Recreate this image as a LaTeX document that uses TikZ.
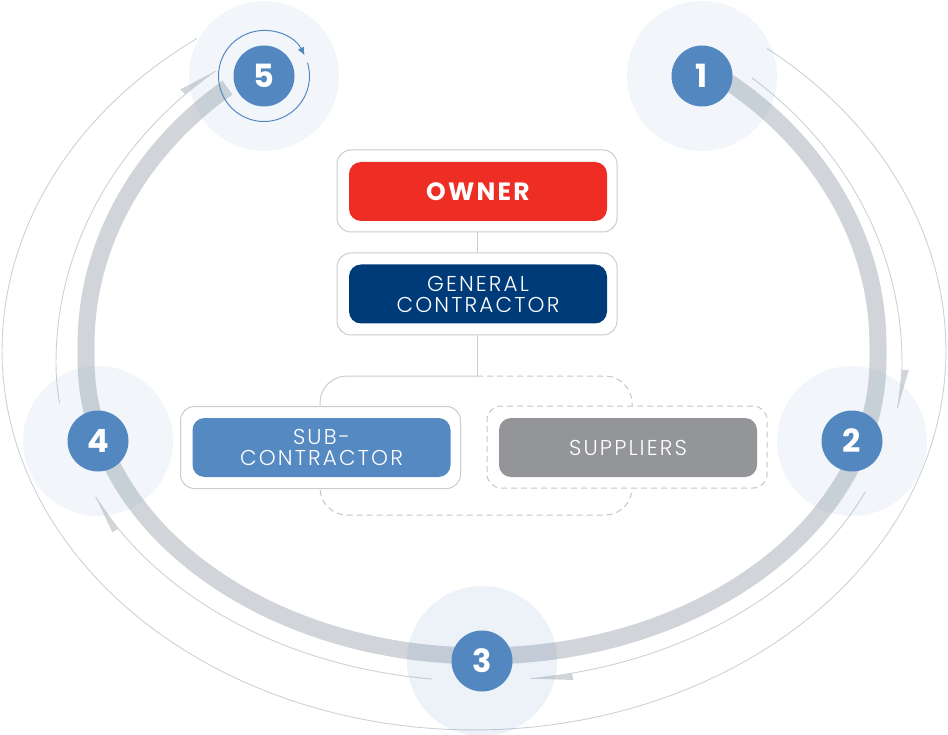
\documentclass[tikz,border=0pt]{standalone}
\usepackage{fontspec}
\setmainfont{Poppins}
\newfontfamily\lightfont{Poppins Light}[LetterSpace=10]
\newfontfamily\ownerfont{Poppins}[LetterSpace=9]
\usetikzlibrary{arrows.meta}
\definecolor{ringgrey}{HTML}{D1D5D9}
\definecolor{thingrey}{HTML}{CDD1D6}
\definecolor{numblue}{HTML}{5288BF}
\definecolor{ownred}{HTML}{EE2D24}
\definecolor{gcnavy}{HTML}{003B79}
\definecolor{subblue}{HTML}{5589C2}
\definecolor{supgrey}{HTML}{939598}
\definecolor{boxline}{HTML}{CCCCCC}
\definecolor{dashline}{HTML}{C6C6C6}
\begin{document}
\begin{tikzpicture}[x=1pt,y=-1pt,
  thinline/.style={thingrey, line width=0.9pt},
  wedgefill/.style={fill=ringgrey, draw=none},
  ringline/.style={ringgrey, line width=17pt},
  conn/.style={boxline, line width=1pt},
  dashconn/.style={dashline, line width=1pt, dash pattern=on 6pt off 4pt},
  outerbox/.style={draw=boxline, line width=1pt, fill=white, rounded corners=14pt,
    minimum width=280pt, minimum height=82pt, inner sep=0pt},
  dashbox/.style={outerbox, draw=dashline, dash pattern=on 6pt off 4pt},
  innerbox/.style={rounded corners=12pt, minimum width=258pt, minimum height=59pt,
    inner sep=0pt, text=white, align=center},
  lighttext/.style={font=\lightfont\fontsize{21.5}{21}\selectfont},
  numcirc/.style={circle, fill=numblue, minimum size=61pt, inner sep=0pt, text=white,
    font=\fontsize{32}{32}\selectfont\bfseries},
  pale/.style={fill=numblue, opacity=0.075}
]
\useasboundingbox (0,0) rectangle (948,735);

% outer thin line
\draw[thinline] plot[domain=-51.6:0,samples=40,variable=\t] ({474+472*cos(\t)},{351+386*sin(\t)})
  -- plot[domain=0:180,samples=90,variable=\t] ({474+472*cos(\t)},{351+379*sin(\t)})
  -- plot[domain=180:234.06,samples=40,variable=\t] ({474+472*cos(\t)},{351+386*sin(\t)});

% middle thin line segments (1->2, 2->3, 3->4, 4->5)
\draw[thinline] plot[domain=-49.8:0,samples=40,variable=\t] ({479+423*cos(\t)},{362+372*sin(\t)})
  -- plot[domain=0:8.3,samples=10,variable=\t] ({479+423*cos(\t)},{362+319*sin(\t)});
\draw[thinline] plot[domain=24:82.94,samples=50,variable=\t] ({479+423*cos(\t)},{362+319*sin(\t)});
\draw[thinline] plot[domain=96.38:155,samples=50,variable=\t] ({479+423*cos(\t)},{362+319*sin(\t)});
\draw[thinline] plot[domain=172.6:180,samples=10,variable=\t] ({479+423*cos(\t)},{362+319*sin(\t)})
  -- plot[domain=180:231.45,samples=40,variable=\t] ({479+423*cos(\t)},{362+372*sin(\t)});

% arrow wedges
\fill[wedgefill] ({479+423*cos(1.4)},{362+319*sin(1.4)}) -- ({479+430*cos(1.4)},{362+326*sin(1.4)})
  -- ({479+423*cos(8.3)},{362+319*sin(8.3)}) -- cycle;
\fill[wedgefill] ({479+423*cos(77.3)},{362+319*sin(77.3)}) -- ({479+430*cos(77.3)},{362+326*sin(77.3)})
  -- ({479+423*cos(82.94)},{362+319*sin(82.94)}) -- cycle;
\fill[wedgefill] ({479+423*cos(148.5)},{362+319*sin(148.5)}) -- ({479+430*cos(148.5)},{362+326*sin(148.5)})
  -- ({479+423*cos(155)},{362+319*sin(155)}) -- cycle;
\fill[wedgefill] ({479+423*cos(226)},{362+372*sin(226)}) -- ({479+430*cos(226)},{362+379*sin(226)})
  -- ({479+423*cos(231.45)},{362+372*sin(231.45)}) -- cycle;

% thick ring
\draw[ringline] plot[domain=-55:0,samples=40,variable=\t] ({482+396*cos(\t)},{345+336*sin(\t)})
  -- plot[domain=0:180,samples=90,variable=\t] ({482+396*cos(\t)},{360+296*sin(\t)})
  -- plot[domain=180:230,samples=40,variable=\t] ({482+396*cos(\t)},{345+336*sin(\t)});

% bracket behind the lower boxes
\coordinate (brtop) at (477,376);
\draw[conn, rounded corners=27pt] (320,407) -- (320,376) -- (brtop);
\draw[dashconn, rounded corners=27pt] (brtop) -- (632,376) -- (632,515) -- (320,515) -- (320,488);

% boxes
\node[outerbox] (ownerbox) at (477,191) {};
\node[innerbox, fill=ownred, font=\ownerfont\fontsize{25}{25}\selectfont\bfseries] (owner) at (478,191.5) {OWNER};
\node[outerbox] (gcbox) at (477,294) {};
\node[innerbox, fill=gcnavy, lighttext] (gc) at (478,294) {GENERAL\\CONTRACTOR};
\node[outerbox] (subbox) at (320.5,447.5) {};
\node[innerbox, fill=subblue, lighttext] (sub) at (321.5,447.5) {SUB-\\CONTRACTOR};
\node[dashbox] (supbox) at (627,447) {};
\node[innerbox, fill=supgrey, lighttext] (sup) at (628,447.5) {SUPPLIERS};

\draw[conn] (ownerbox.south) -- (gcbox.north);
\draw[conn] (gcbox.south) -- (brtop);

% step circles
\coordinate (c1) at (702,76);
\coordinate (c2) at (852,441);
\coordinate (c3) at (482,661);
\coordinate (c4) at (98,441);
\coordinate (c5) at (264,76);
\fill[pale] (c1) circle[radius=75];
\fill[pale] (c2) circle[radius=75];
\fill[pale, opacity=0.11] (c3) circle[radius=75];
\fill[pale] (c4) circle[radius=75];
\fill[pale] (c5) circle[radius=75];

\node[numcirc] (n1) at (c1) {1};
\node[numcirc] (n2) at (c2) {2};
\node[numcirc] (n3) at (c3) {3};
\node[numcirc] (n4) at (c4) {4};
\node[numcirc] (n5) at (c5) {5};

\draw[numblue, line width=1pt, -{Latex[length=8pt,width=7pt]}] (c5) ++(-17:45.5)
  arc[start angle=-17, end angle=333, radius=45.5];
\end{tikzpicture}
\end{document}
